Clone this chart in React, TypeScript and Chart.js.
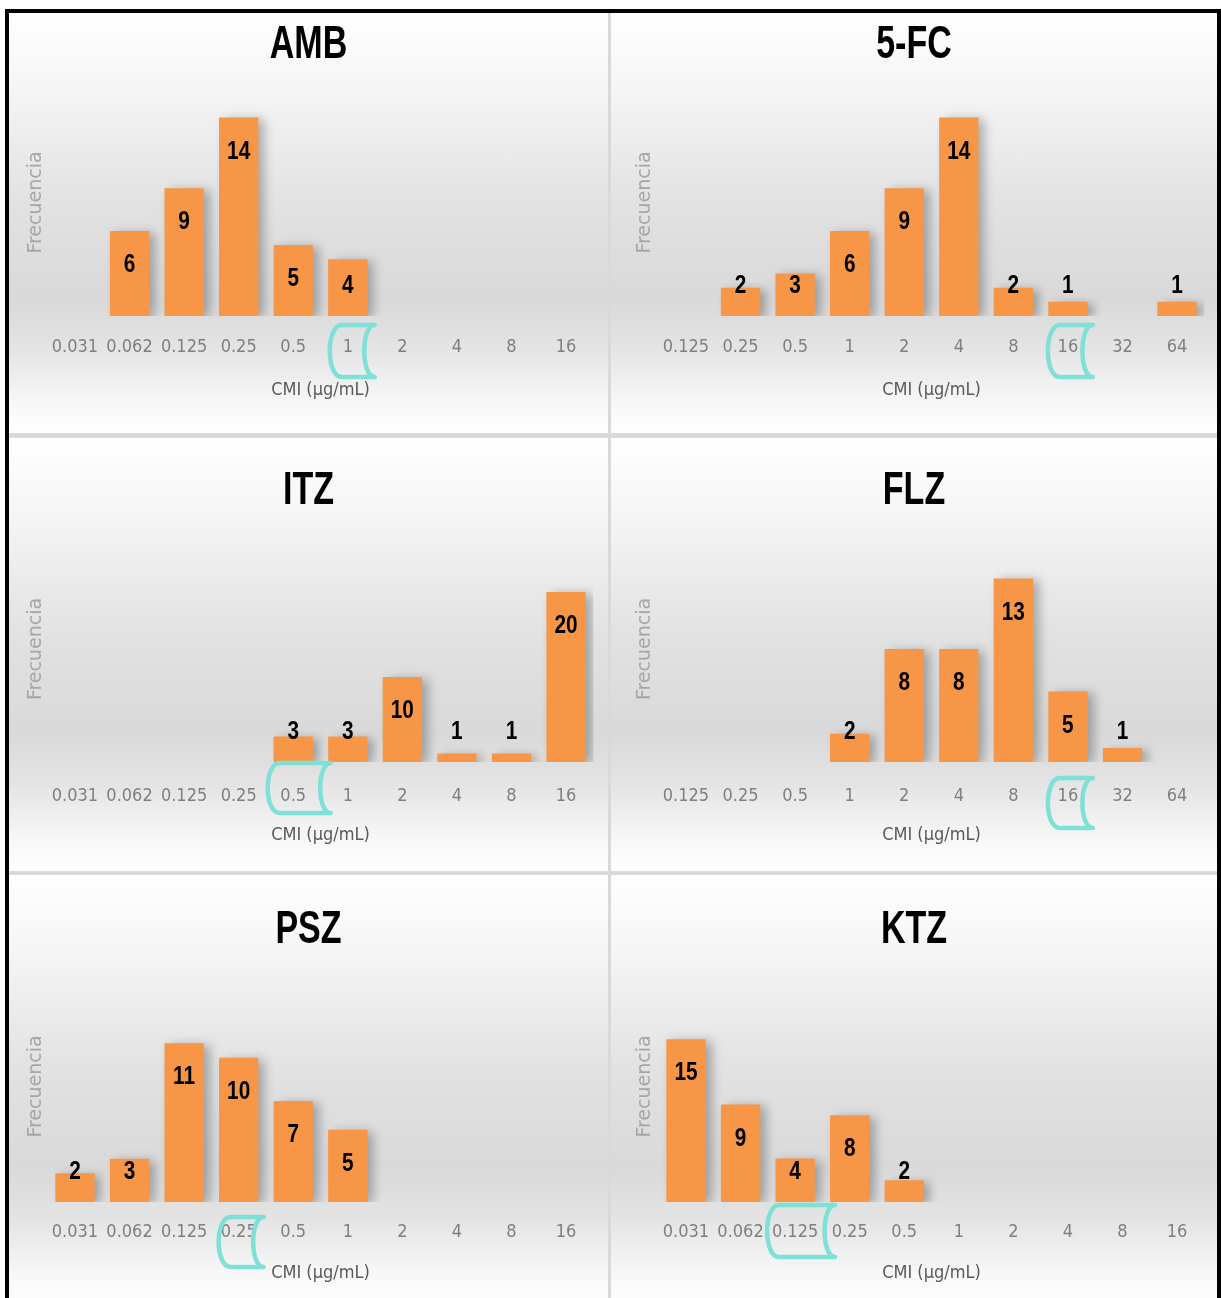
import React, { useEffect, useRef } from "react";
import { Chart, registerables } from "chart.js";

Chart.register(...registerables);

// ---------- data ----------
const CMI_LOW = ["0.031", "0.062", "0.125", "0.25", "0.5", "1", "2", "4", "8", "16"];
const CMI_HIGH = ["0.125", "0.25", "0.5", "1", "2", "4", "8", "16", "32", "64"];

const AMB_VALUES = [null, 6, 9, 14, 5, 4, null, null, null, null];
const FC5_VALUES = [null, 2, 3, 6, 9, 14, 2, 1, null, 1];
const ITZ_VALUES = [null, null, null, null, 3, 3, 10, 1, 1, 20];
const FLZ_VALUES = [null, null, null, 2, 8, 8, 13, 5, 1, null];
const PSZ_VALUES = [2, 3, 11, 10, 7, 5, null, null, null, null];
const KTZ_VALUES = [15, 9, 4, 8, 2, null, null, null, null, null];

const Y_MAX = { AMB: 16, FC5: 16, ITZ: 26.6, FLZ: 16, PSZ: 16, KTZ: 21.3 };

const X_TITLE = "CMI (µg/mL)";
const Y_TITLE = "Frecuencia";

// ---------- styles / layout ----------
const NARROW = '"DejaVu Sans Condensed", "Liberation Sans Narrow", "Liberation Sans", sans-serif';
const ARIAL = '"Liberation Sans", Arial, sans-serif';
const BAR_COLOR = "#F79646";
const MARK_COLOR = "#7fe0d6";
const HX = 90;

const ROWS = [
  { top: 13, h: 420, B: 303, titleBase: 45, T: 76, tickPad: 21, xtPad: 5 },
  { top: 438, h: 433, B: 324, titleBase: 66, T: 98, tickPad: 24, xtPad: 6 },
  { top: 875, h: 430, B: 327, titleBase: 68, T: 96, tickPad: 20, xtPad: 8 },
];
const COLS = [
  { left: 9, w: 599, L: 38.7, R: 584.3, yTitle: 27 },
  { left: 611, w: 606, L: 47.7, R: 593.3, yTitle: 34 },
];

const PANELS = [
  { title: "AMB", labels: CMI_LOW, values: AMB_VALUES, yMax: Y_MAX.AMB, row: 0, col: 0, mark: "1", bracket: { dx: 3.5, w: 47, oy: 9, h: 52 } },
  { title: "5-FC", labels: CMI_HIGH, values: FC5_VALUES, yMax: Y_MAX.FC5, row: 0, col: 1, mark: "16", bracket: { dx: 1.5, w: 47, oy: 9, h: 52 } },
  { title: "ITZ", labels: CMI_LOW, values: ITZ_VALUES, yMax: Y_MAX.ITZ, row: 1, col: 0, mark: "0.5", bracket: { dx: 5, w: 65, oy: 1, h: 50 } },
  { title: "FLZ", labels: CMI_HIGH, values: FLZ_VALUES, yMax: Y_MAX.FLZ, row: 1, col: 1, mark: "16", bracket: { dx: 1.5, w: 47, oy: 16, h: 50 } },
  { title: "PSZ", labels: CMI_LOW, values: PSZ_VALUES, yMax: Y_MAX.PSZ, row: 2, col: 0, mark: "0.25", bracket: { dx: 1.5, w: 47, oy: 15, h: 50 } },
  { title: "KTZ", labels: CMI_LOW, values: KTZ_VALUES, yMax: Y_MAX.KTZ, row: 2, col: 1, mark: "0.125", bracket: { dx: 5, w: 70, oy: 3, h: 52 } },
];

const shadowPlugin = {
  id: "barShadow",
  beforeDatasetDraw(chart: any) {
    const ctx = chart.ctx;
    ctx.save();
    ctx.shadowColor = "rgba(0,0,0,0.28)";
    ctx.shadowBlur = 10;
    ctx.shadowOffsetX = 6;
    ctx.shadowOffsetY = 2;
  },
  afterDatasetDraw(chart: any) {
    chart.ctx.restore();
  },
};

const labelPlugin = {
  id: "barLabels",
  afterDatasetsDraw(chart: any) {
    const ctx = chart.ctx;
    const meta = chart.getDatasetMeta(0);
    const data = chart.data.datasets[0].data;
    ctx.save();
    ctx.font = `bold 26px ${ARIAL}`;
    ctx.fillStyle = "#000";
    ctx.textAlign = "center";
    ctx.textBaseline = "middle";
    meta.data.forEach((bar: any, i: number) => {
      const v = data[i];
      if (v === null || v === undefined) return;
      const y = Math.min(bar.y + 34, bar.base - 30);
      ctx.save();
      ctx.translate(bar.x, y);
      ctx.scale(0.8, 1);
      ctx.fillText(String(v), 0, 0);
      ctx.restore();
    });
    ctx.restore();
  },
};

const titlePlugin = {
  id: "panelTitle",
  afterDraw(chart: any, _args: any, opts: any) {
    if (!opts || !opts.text) return;
    const ctx = chart.ctx;
    ctx.save();
    ctx.font = `bold 46px ${ARIAL}`;
    ctx.fillStyle = "#000";
    ctx.textAlign = "center";
    ctx.textBaseline = "alphabetic";
    ctx.translate(chart.width / 2, opts.baseline);
    ctx.scale(0.74, 1);
    ctx.fillText(opts.text, 0, 0);
    ctx.restore();
  },
};

const bracketPlugin = {
  id: "bracketMark",
  afterDraw(chart: any, _args: any, opts: any) {
    if (!opts || !opts.mark) return;
    const xs = chart.scales.x;
    const idx = chart.data.labels.indexOf(opts.mark);
    if (idx < 0) return;
    const b = opts.bracket;
    const cx = xs.getPixelForValue(idx) + b.dx;
    const x0 = cx - b.w / 2;
    const x1 = cx + b.w / 2;
    const y0 = chart.chartArea.bottom + b.oy;
    const y1 = y0 + b.h;
    const k = 14;
    const ctx = chart.ctx;
    ctx.save();
    ctx.strokeStyle = MARK_COLOR;
    ctx.lineWidth = 4.5;
    ctx.lineJoin = "round";
    ctx.beginPath();
    ctx.moveTo(x1, y0);
    ctx.lineTo(x0 + k, y0);
    ctx.bezierCurveTo(x0 - 2, y0, x0 - 2, y1, x0 + k, y1);
    ctx.lineTo(x1, y1);
    ctx.bezierCurveTo(x1 - k, y1, x1 - k, y0, x1, y0);
    ctx.closePath();
    ctx.stroke();
    ctx.restore();
  },
};

function Panel({ p }: { p: any }) {
  const ref = useRef<HTMLCanvasElement | null>(null);
  const row = ROWS[p.row];
  const col = COLS[p.col];
  useEffect(() => {
    if (!ref.current) return;
    const yFont = 19;
    const padL = col.yTitle - (yFont * 1.2) / 2;
    const chart = new Chart(ref.current, {
      type: "bar",
      data: {
        labels: p.labels,
        datasets: [
          {
            data: p.values,
            backgroundColor: BAR_COLOR,
            borderWidth: 0,
            barPercentage: 0.72,
            categoryPercentage: 1,
          },
        ],
      },
      plugins: [shadowPlugin, labelPlugin, titlePlugin, bracketPlugin],
      options: {
        responsive: false,
        animation: false,
        devicePixelRatio: 1,
        layout: {
          padding: { left: padL, right: col.w - col.R, top: row.T, bottom: row.h - row.B - HX },
        },
        plugins: {
          legend: { display: false },
          tooltip: { enabled: false },
          title: { display: false },
          panelTitle: { text: p.title, baseline: row.titleBase },
          bracketMark: { mark: p.mark, bracket: p.bracket },
        } as any,
        scales: {
          x: {
            grid: { display: false, drawTicks: false },
            border: { display: false },
            ticks: {
              color: "#7f7f7f",
              font: { family: NARROW, size: 18, lineHeight: 1.2 },
              padding: row.tickPad,
              maxRotation: 0,
              autoSkip: false,
            },
            title: {
              display: true,
              text: X_TITLE,
              color: "#595959",
              font: { family: NARROW, size: 18, lineHeight: 1.2 },
              padding: { top: 0, bottom: row.xtPad },
            },
            afterFit: (s: any) => {
              s.height = HX;
            },
          },
          y: {
            min: 0,
            max: p.yMax,
            grid: { display: false, drawTicks: false },
            border: { display: false },
            ticks: { display: false },
            title: {
              display: true,
              text: Y_TITLE,
              color: "#a6a6a6",
              font: { family: '"DejaVu Sans", sans-serif', size: yFont, lineHeight: 1.2 },
              padding: 0,
            },
            afterFit: (s: any) => {
              s.width = col.L - padL;
            },
          },
        },
      } as any,
    });
    return () => chart.destroy();
  }, []);
  return (
    <div
      style={{
        position: "absolute",
        left: col.left,
        top: row.top,
        width: col.w,
        height: row.h,
        background:
          "linear-gradient(to bottom, #ffffff 0%, #f5f5f5 18%, #e2e2e2 45%, #d9d9d9 68%, #e4e4e4 80%, #f6f6f6 92%, #ffffff 100%)",
      }}
    >
      <canvas ref={ref} width={col.w} height={row.h} style={{ display: "block", width: col.w, height: row.h }} />
    </div>
  );
}

export default function App() {
  return (
    <div
      style={{
        position: "absolute",
        left: 0,
        top: 0,
        width: 1221,
        height: 1298,
        overflow: "hidden",
        background: "#ffffff",
      }}
    >
      <div
        style={{
          position: "absolute",
          left: 5,
          top: 9,
          width: 1216,
          height: 1320,
          boxSizing: "border-box",
          border: "4px solid #000",
          background: "#d9d9d9",
        }}
      />
      {PANELS.map((p) => (
        <Panel key={p.title} p={p} />
      ))}
    </div>
  );
}
